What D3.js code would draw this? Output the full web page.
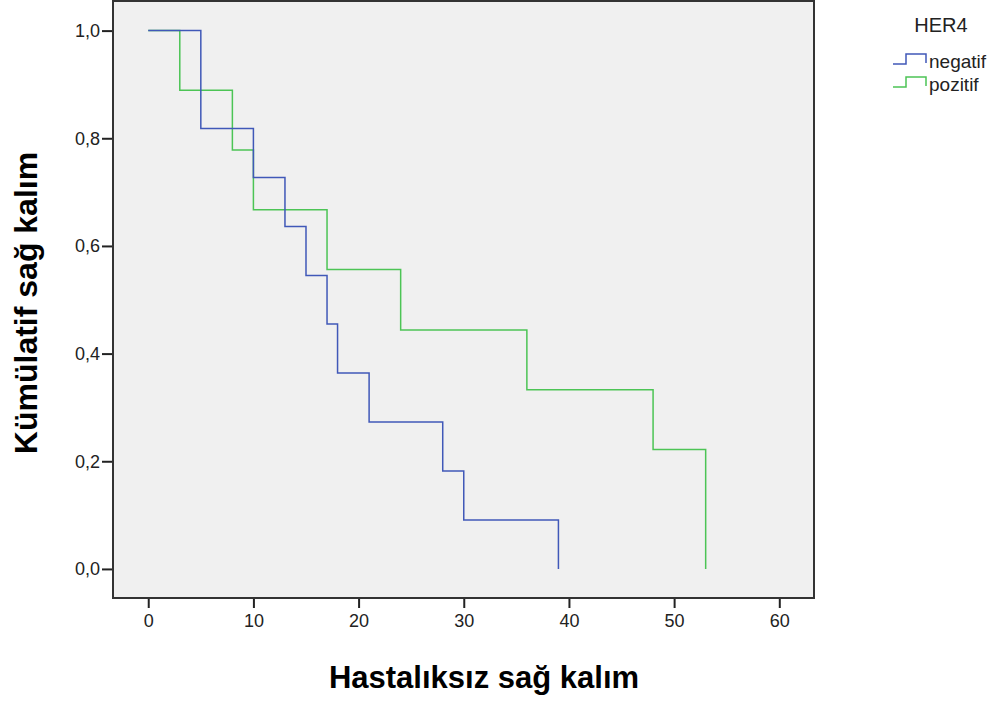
<!DOCTYPE html>
<html>
<head>
<meta charset="utf-8">
<script src="https://cdn.jsdelivr.net/npm/d3@7"></script>
<style>
  body { margin: 0; background: #fff; }
  text { font-family: "Liberation Sans", Arial, sans-serif; }
</style>
</head>
<body>
<div id="chart"></div>
<script>
var svgWidth = 997;
var svgHeight = 701;

// plot frame
var margin = { top: 1, right: 183, bottom: 103, left: 113 };
var width = svgWidth - margin.left - margin.right;
var height = svgHeight - margin.top - margin.bottom;

// Kaplan-Meier steps (time, survival after the event)
var groups = ["negatif", "pozitif"];
var colors = ["#4058b8", "#4cc455"];
var negTimes = [0, 5, 10, 13, 15, 17, 18, 21, 28, 30, 39];
var negSurv = [1, 0.818, 0.727, 0.636, 0.545, 0.455, 0.364, 0.273, 0.182, 0.091, 0];
var posTimes = [0, 3, 8, 10, 17, 24, 36, 48, 53];
var posSurv = [1, 0.889, 0.778, 0.667, 0.556, 0.444, 0.333, 0.222, 0];

var xTicks = [0, 10, 20, 30, 40, 50, 60];
var yTicks = [0, 0.2, 0.4, 0.6, 0.8, 1.0];

var svg = d3.select("#chart")
  .append("svg")
  .attr("width", svgWidth)
  .attr("height", svgHeight);

var chartGroup = svg.append("g")
  .attr("transform", "translate(" + margin.left + "," + margin.top + ")");

var x = d3.scaleLinear().domain([-3.35, 63.3]).range([0, width]);
var y = d3.scaleLinear().domain([-0.054, 1.055]).range([height, 0]);

// background
chartGroup.append("rect")
  .attr("width", width)
  .attr("height", height)
  .attr("fill", "#f0f0f0");

// curves
function stepPoints(times, surv) {
  var pts = [];
  for (var i = 0; i < times.length; i++) {
    if (i > 0) pts.push([times[i], surv[i - 1]]);
    pts.push([times[i], surv[i]]);
  }
  return pts;
}

var line = d3.line()
  .x(d => x(d[0]))
  .y(d => y(d[1]));

var series = [stepPoints(negTimes, negSurv), stepPoints(posTimes, posSurv)];

// draw green first so blue sits on top where they overlap
[1, 0].forEach(function (i) {
  chartGroup.append("path")
    .datum(series[i])
    .attr("fill", "none")
    .attr("stroke", colors[i])
    .attr("stroke-width", 1.5)
    .attr("d", line);
});

// axes
var bottomAxis = d3.axisBottom(x).tickValues(xTicks).tickSize(10).tickPadding(6);
var leftAxis = d3.axisLeft(y).tickValues(yTicks).tickSize(11).tickPadding(2)
  .tickFormat(d => d3.format(".1f")(d).replace(".", ","));

var xAxis = chartGroup.append("g")
  .attr("transform", `translate(0, ${height})`)
  .call(bottomAxis);
var yAxis = chartGroup.append("g")
  .call(leftAxis);

[xAxis, yAxis].forEach(function (a) {
  a.select(".domain").remove();
  a.selectAll("line").attr("stroke", "#222").attr("stroke-width", 2);
  a.selectAll("text").attr("fill", "#222").style("font-size", "18px");
});

// frame
chartGroup.append("rect")
  .attr("width", width)
  .attr("height", height)
  .attr("fill", "none")
  .attr("stroke", "#333")
  .attr("stroke-width", 2);

// axis titles
svg.append("text")
  .attr("x", 484)
  .attr("y", 688)
  .attr("text-anchor", "middle")
  .style("font-size", "31px")
  .style("font-weight", "bold")
  .text("Hastalıksız sağ kalım");

svg.append("text")
  .attr("transform", "translate(37, 303) rotate(-90)")
  .attr("text-anchor", "middle")
  .style("font-size", "32px")
  .style("font-weight", "bold")
  .text("Kümülatif sağ kalım");

// legend
var legend = svg.append("g");
legend.append("text")
  .attr("x", 941)
  .attr("y", 32)
  .attr("text-anchor", "middle")
  .style("font-size", "20px")
  .attr("fill", "#222")
  .text("HER4");

var legendY = [64, 87];
groups.forEach(function (g, i) {
  var ly = legendY[i];
  legend.append("path")
    .attr("d", `M893,${ly}H906V${ly - 10}H926V${ly - 1}`)
    .attr("fill", "none")
    .attr("stroke", colors[i])
    .attr("stroke-width", 1.5);
  legend.append("text")
    .attr("x", 929)
    .attr("y", ly + 4)
    .style("font-size", "19px")
    .attr("fill", "#222")
    .text(g);
});
</script>
</body>
</html>
